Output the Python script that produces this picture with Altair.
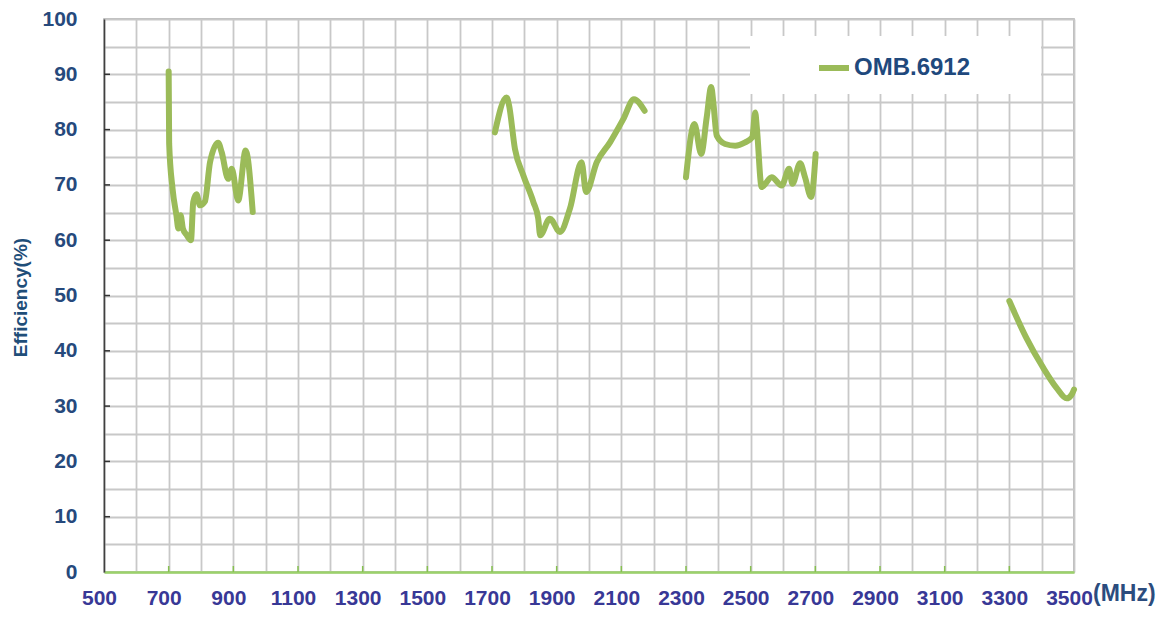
import altair as alt
import pandas as pd

# ---- data ----
series_name = "OMB.6912"

seg1_freq = [700, 701.5, 712, 724, 730, 737, 744, 755, 769, 776, 786, 797, 812, 828, 853, 864, 884, 895, 915, 938, 960]
seg1_eff = [90.5, 77.5, 69.3, 64.5, 62.1, 64.5, 62.1, 61.0, 60.0, 66.9, 68.3, 66.3, 67.0, 74.1, 77.6, 75.9, 71.1, 72.9, 67.2, 76.2, 65.1]

seg2_freq = [1709, 1745, 1752, 1771, 1797, 1828, 1843, 1849, 1879, 1910, 1941, 1977, 1991, 2024, 2065, 2106, 2139, 2172]
seg2_eff = [79.5, 85.8, 84.6, 76.5, 71.7, 66.9, 63.9, 60.9, 63.9, 61.5, 65.7, 74.1, 68.7, 74.1, 77.7, 81.9, 85.5, 83.4]

seg3_freq = [2300, 2326, 2347, 2364, 2378, 2385, 2395, 2421, 2452, 2483, 2505, 2514, 2519, 2534, 2565, 2596, 2619, 2629, 2653, 2668, 2687, 2701]
seg3_eff = [71.4, 81.0, 75.6, 82.2, 87.7, 84.6, 78.9, 77.4, 77.1, 77.7, 78.6, 83.1, 80.4, 69.6, 71.4, 69.9, 72.9, 70.2, 73.9, 71.4, 67.8, 75.6]

seg4_freq = [3300, 3353, 3405, 3446, 3477, 3493, 3500]
seg4_eff = [49.0, 42.3, 36.9, 33.3, 31.4, 32.1, 33.0]

x_grid_values = list(range(500, 3501, 100))
y_grid_values = list(range(0, 101, 5))
x_tick_values = list(range(700, 3400, 200))
y_tick_values = list(range(10, 100, 10))
unit_label = "(MHz)"

# ---- build table ----
rows = []
for seg, (xs, ys) in enumerate([(seg1_freq, seg1_eff), (seg2_freq, seg2_eff),
                                (seg3_freq, seg3_eff), (seg4_freq, seg4_eff)]):
    for f, e in zip(xs, ys):
        rows.append({"freq": f, "eff": e, "seg": seg, "series": series_name})
df = pd.DataFrame(rows)

W, H = 970, 553
FONT = "Liberation Sans"
GREEN = "#9BBB59"

x_scale = alt.Scale(domain=[500, 3500], nice=False, zero=False)
y_scale = alt.Scale(domain=[0, 100], nice=False)

x_axis = alt.Axis(
    values=x_grid_values, format="d",
    labelExpr="(datum.value - 500) % 200 === 100 ? '' : datum.label",
    labelFont=FONT, labelFontSize=21, labelFontWeight="bold", labelColor="#383896",
    labelPadding=15, labelOffset=-5, labelFlush=False, labelOverlap=False,
    ticks=False, domainColor="#9BD26A", domainWidth=2.5,
    grid=True, gridColor="#C8C8C8", gridWidth=1.8, title=None,
)
y_axis = alt.Axis(
    values=y_grid_values, format="d",
    labelExpr="datum.value % 10 === 0 ? datum.label : ''",
    labelFont=FONT, labelFontSize=21, labelFontWeight="bold", labelColor="#26497C",
    labelPadding=27, labelFlush=False, labelOverlap=False, labelBaseline="middle",
    ticks=False, domainColor="#404040", domainWidth=1.5,
    grid=True, gridColor="#C8C8C8", gridWidth=1.8,
    title="Efficiency(%)", titleFont=FONT, titleFontSize=19, titleFontWeight="bold",
    titleColor="#1F4E79", titleX=-84, titleY=278, titleAngle=-90,
    titleBaseline="middle", titleAlign="center",
)

X = alt.X("freq:Q", scale=x_scale, axis=x_axis)
Y = alt.Y("eff:Q", scale=y_scale, axis=y_axis)

line = alt.Chart(df).mark_line(
    strokeWidth=6, strokeCap="round", strokeJoin="round", interpolate="monotone"
).encode(
    x=X, y=Y,
    color=alt.Color("series:N", scale=alt.Scale(range=[GREEN]),
                    legend=alt.Legend(
                        title=None, orient="none", legendX=712, legendY=31,
                        symbolType="stroke", symbolSize=900, symbolStrokeWidth=6,
                        labelFont=FONT, labelFontSize=24, labelFontWeight="bold",
                        labelColor="#1F497D", labelOffset=2, padding=0,
                    )),
    detail="seg:N",
)

legend_box = alt.Chart(pd.DataFrame({"a": [0]})).mark_rect(color="white").encode(
    x=alt.value(646), x2=alt.value(937), y=alt.value(17), y2=alt.value(75)
)

xticks = alt.Chart(pd.DataFrame({"freq": x_tick_values})).mark_rule(
    color="#86C04F", strokeWidth=1.5
).encode(x=X, y=alt.value(H), y2=alt.value(H - 6))

yticks = alt.Chart(pd.DataFrame({"eff": y_tick_values})).mark_rule(
    color="#333333", strokeWidth=1.5
).encode(y=Y, x=alt.value(0), x2=alt.value(6))

unit = alt.Chart(pd.DataFrame({"freq": [3500], "eff": [0], "t": [unit_label]})).mark_text(
    font=FONT, fontSize=23, fontWeight="bold", color="#2B4C7E",
    align="left", baseline="middle", dx=19, dy=22,
).encode(x=X, y=Y, text="t:N")

chart = alt.layer(line, legend_box, xticks, yticks, unit).properties(
    width=W, height=H,
    autosize=alt.AutoSizeParams(type="none"),
    padding={"left": 96, "top": 11, "right": 84, "bottom": 36},
).configure_view(stroke="#A6A6A6", strokeWidth=1.5)

chart.save("out.html", embed_options={"renderer": "svg", "actions": False})
